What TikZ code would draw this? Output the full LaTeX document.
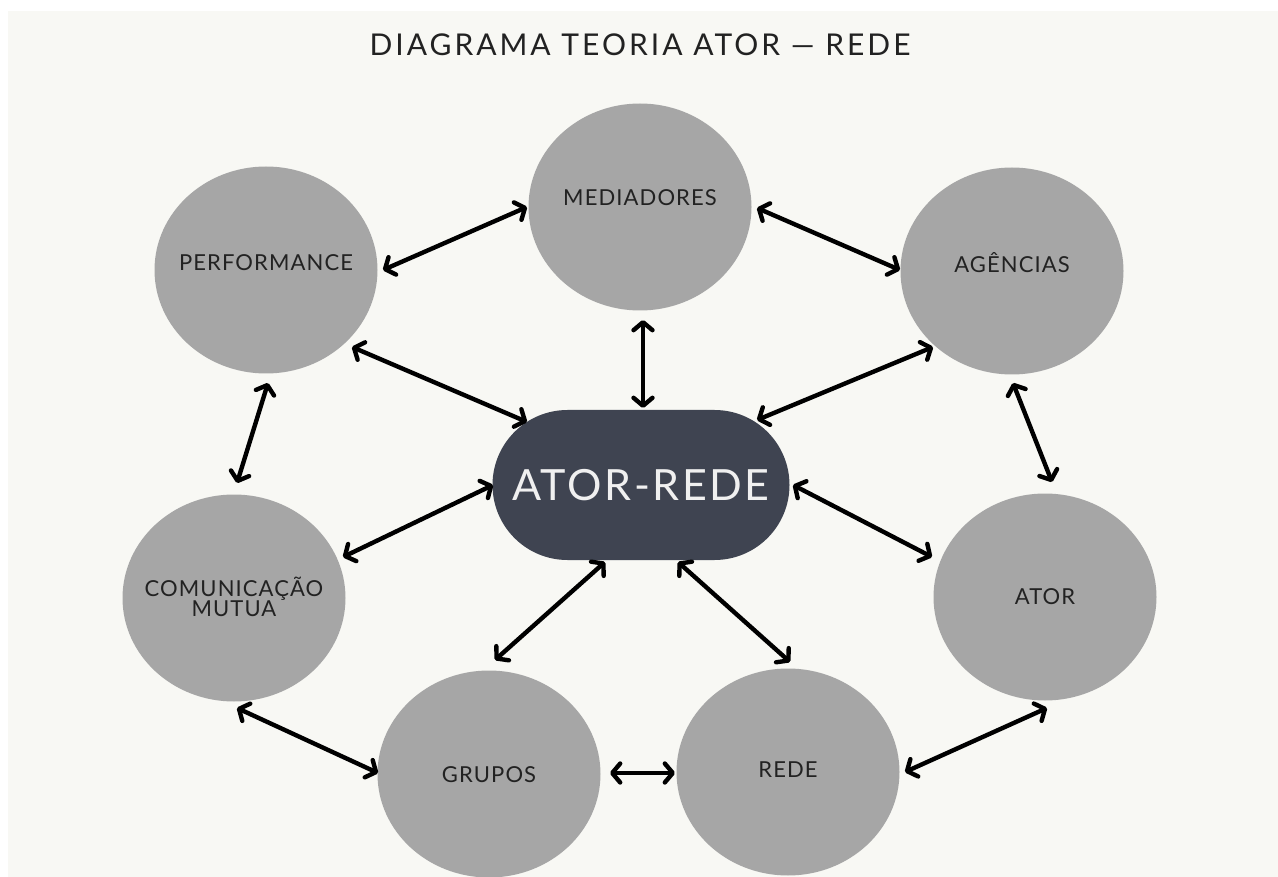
\documentclass[tikz,border=0pt]{standalone}
\usepackage{fontspec}
\setmainfont{Lato}
\usetikzlibrary{shapes.geometric,arrows.meta,calc}
\definecolor{bgc}{HTML}{F8F8F4}
\definecolor{circc}{HTML}{A6A6A6}
\definecolor{hubc}{HTML}{3F4451}
\definecolor{txtc}{HTML}{222222}
\begin{document}
\begin{tikzpicture}[x=1pt,y=-1pt,
  bubble/.style={ellipse, fill=circc, minimum width=223pt, minimum height=207pt, inner sep=0pt},
  lbl/.style={text=txtc, align=center, inner sep=0pt,
    font=\fontsize{22}{17}\selectfont\addfontfeature{LetterSpace=5}},
  link/.style={line width=4.4pt, line cap=round,
    {Straight Barb[length=8pt,width=19pt,line cap=round,line join=round]}-{Straight Barb[length=8pt,width=19pt,line cap=round,line join=round]}}
]
\useasboundingbox (0,0) rectangle (1278,877);
\clip (0,0) rectangle (1278,877);
\fill[white] (0,0) rectangle (1278,877);
\fill[bgc] (8,11) rectangle (1278,877);

\node[text=txtc, inner sep=0pt, font=\fontsize{30}{30}\selectfont\addfontfeature{LetterSpace=10}] (title) at (640,45) {DIAGRAMA TEORIA ATOR — REDE};

\node[bubble] (med) at (640,207) {};
\node[bubble] (perf) at (266,270) {};
\node[bubble] (agen) at (1012,271) {};
\node[bubble] (com) at (234,598) {};
\node[bubble] (ator) at (1045,597) {};
\node[bubble] (grup) at (489,774) {};
\node[bubble] (rede) at (788,772) {};
\node[rectangle, fill=hubc, minimum width=297pt, minimum height=150pt, rounded corners=75pt, inner sep=0pt] (hub) at (641,485) {};

\node[lbl] (medL) at ($(med)+(0,-9)$) {MEDIADORES};
\node[lbl] (perfL) at ($(perf)+(0,-7)$) {PERFORMANCE};
\node[lbl] (agenL) at ($(agen)+(0,-8)$) {AGÊNCIAS};
\node[lbl, font=\fontsize{22}{16}\selectfont\addfontfeature{LetterSpace=5}] (comL) at ($(com)+(0,-1)$) {COMUNICAÇÃO\\MUTUA};
\node[lbl] (atorL) at ($(ator)+(0,0)$) {ATOR};
\node[lbl] (grupL) at ($(grup)+(0,1)$) {GRUPOS};
\node[lbl] (redeL) at ($(rede)+(0,-2)$) {REDE};
\node[text=white!94!black, inner sep=0pt, font=\fontsize{43}{43}\selectfont\addfontfeature{LetterSpace=6}] (hubL) at (hub) {ATOR-REDE};

\draw[link] ($(perf)+(117,0)$) -- ($(med)+(-113,0)$);
\draw[link] ($(med)+(117,1)$) -- ($(agen)+(-112,-1)$);
\draw[link] ($(perf)+(86,77)$) -- ($(hub)+(-114,-63)$);
\draw[link] ($(agen)+(-79,76)$) -- ($(hub)+(116,-65)$);
\draw[link] ($(perf)+(2,113)$) -- ($(com)+(3,-115)$);
\draw[link] ($(agen)+(1,112)$) -- ($(ator)+(7,-115)$);
\draw[link] ($(med)+(3,113)$) -- ($(hub)+(2,-77)$);
\draw[link] ($(com)+(109,-41)$) -- ($(hub)+(-148,0)$);
\draw[link] ($(hub)+(152,0)$) -- ($(ator)+(-113,-40)$);
\draw[link] ($(hub)+(-36,77)$) -- ($(grup)+(6,-114)$);
\draw[link] ($(hub)+(37,77)$) -- ($(rede)+(2,-110)$);
\draw[link] ($(com)+(3,110)$) -- ($(grup)+(-111,-1)$);
\draw[link] ($(grup)+(121,-1)$) -- ($(rede)+(-113,1)$);
\draw[link] ($(rede)+(117,0)$) -- ($(ator)+(2,111)$);
\end{tikzpicture}
\end{document}
